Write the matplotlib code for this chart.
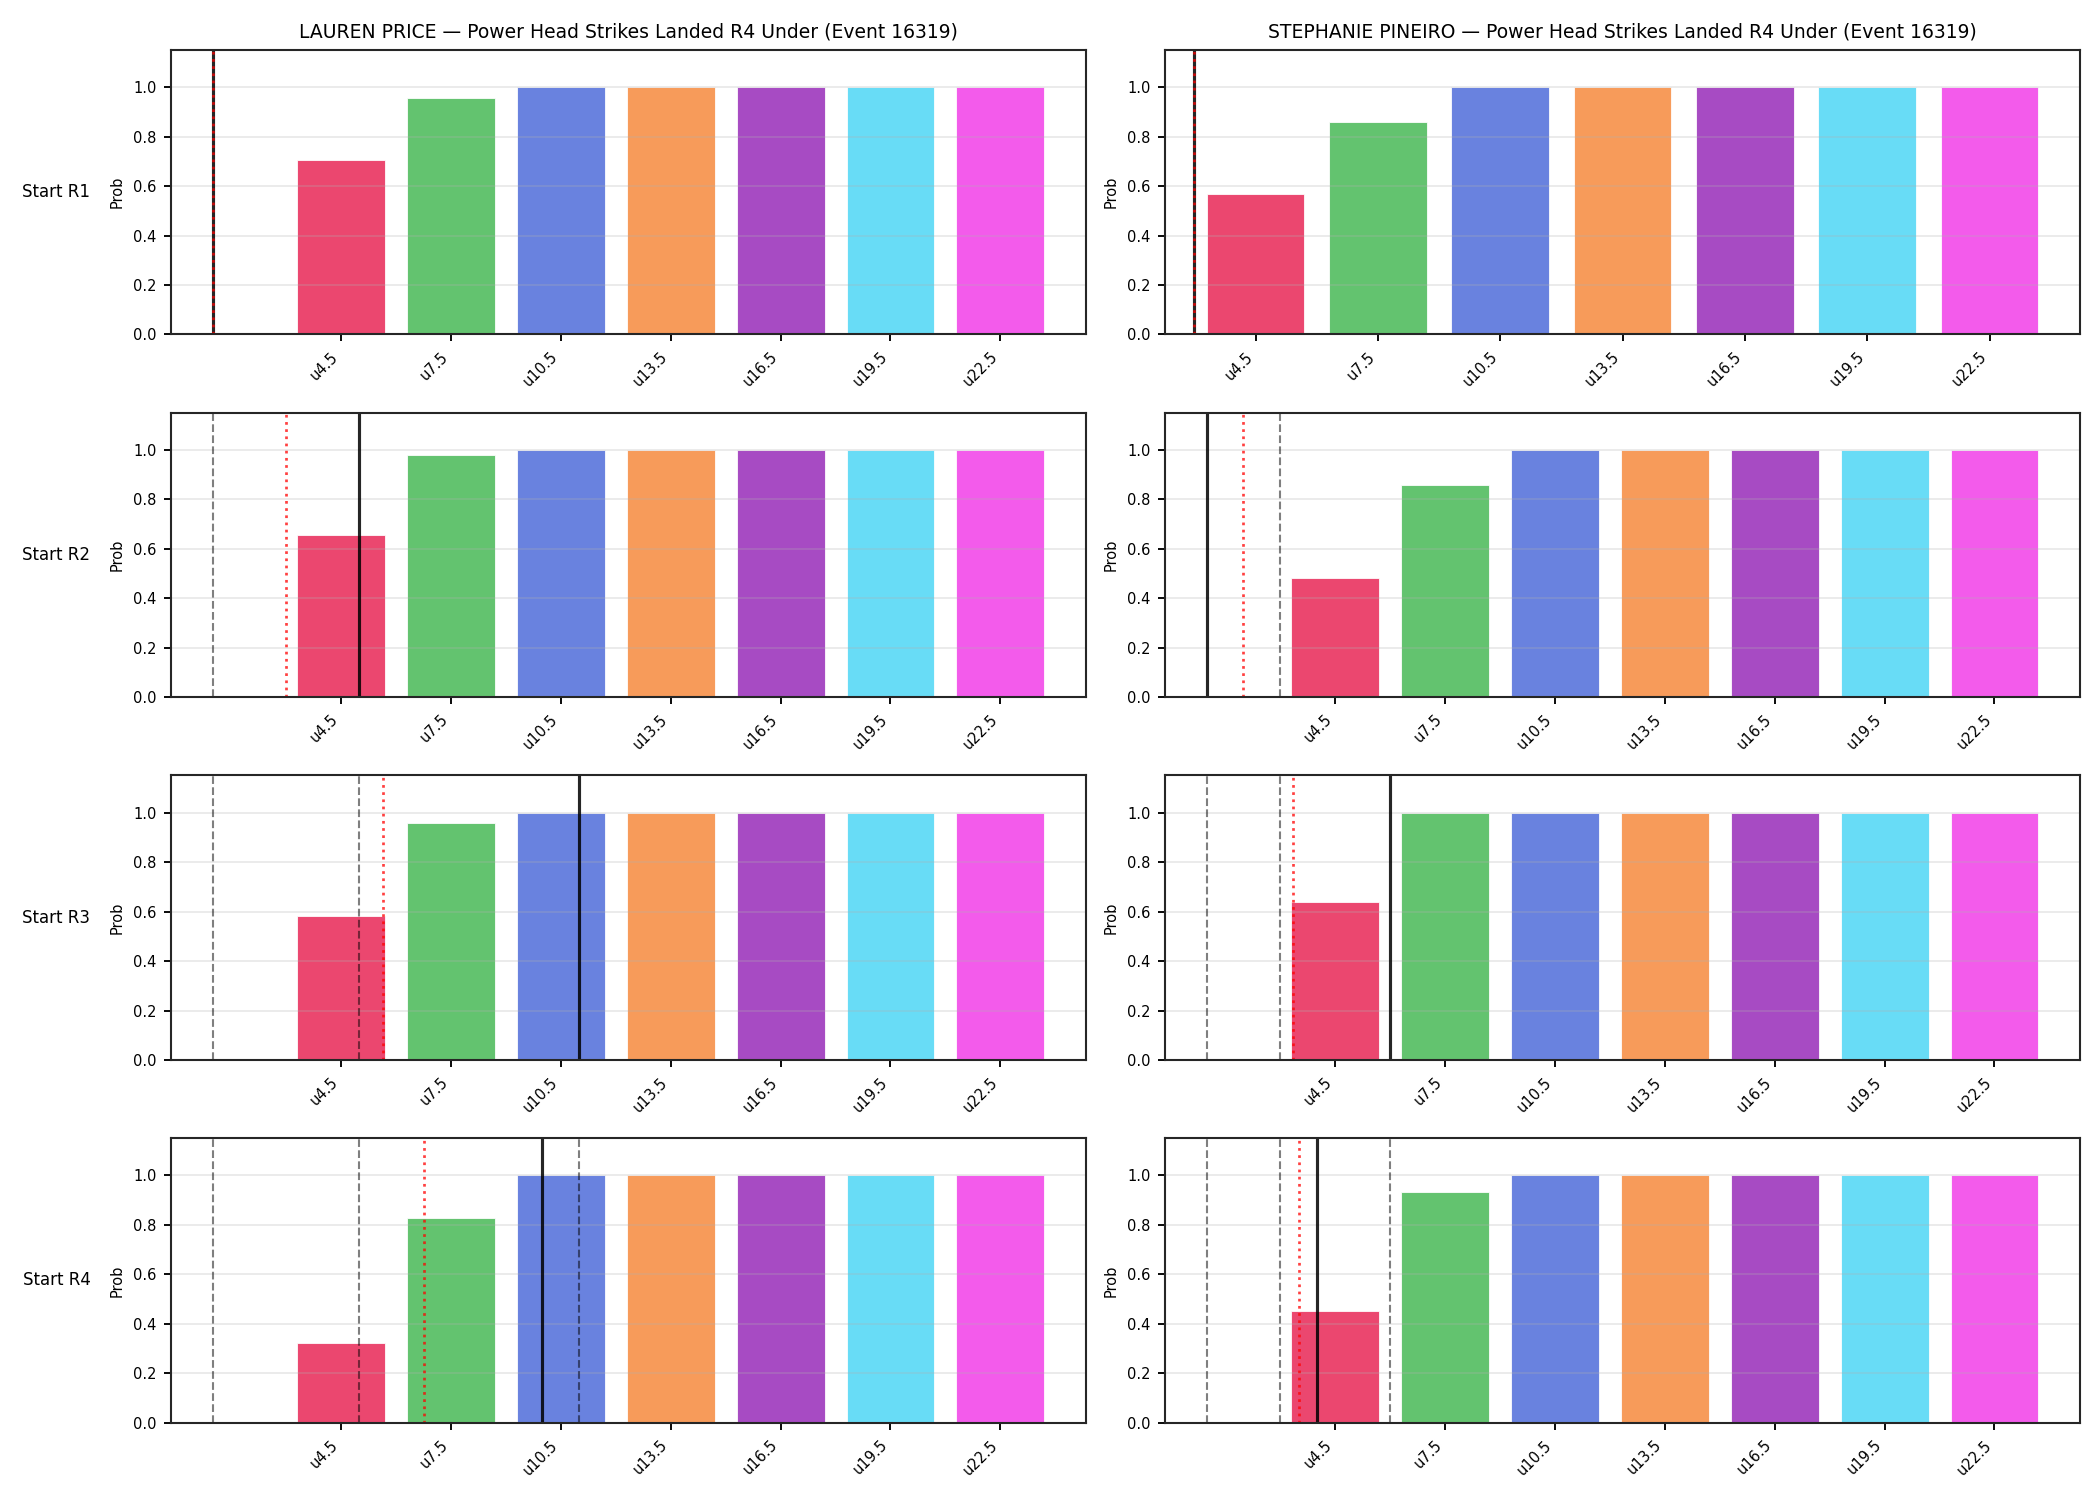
import numpy as np
import matplotlib
matplotlib.use("Agg")
import matplotlib.pyplot as plt

# thresholds (under lines)
thresholds = [4.5, 7.5, 10.5, 13.5, 16.5, 19.5, 22.5]
labels = ["u4.5", "u7.5", "u10.5", "u13.5", "u16.5", "u19.5", "u22.5"]
rounds = ["Start R1", "Start R2", "Start R3", "Start R4"]
colors = ["#e6194b", "#3cb44b", "#4363d8", "#f58231", "#911eb4", "#42d4f4", "#f032e6"]

price_name = "LAUREN PRICE"
price_probs = [
    [0.706, 0.957, 1.0, 1.0, 1.0, 1.0, 1.0],
    [0.656, 0.980, 1.0, 1.0, 1.0, 1.0, 1.0],
    [0.581, 0.957, 1.0, 1.0, 1.0, 1.0, 1.0],
    [0.323, 0.829, 1.0, 1.0, 1.0, 1.0, 1.0],
]
price_current = [1, 5, 11, 10]
price_proj = [1, 3, 5.66, 6.76]

pineiro_name = "STEPHANIE PINEIRO"
pineiro_probs = [
    [0.568, 0.857, 1.0, 1.0, 1.0, 1.0, 1.0],
    [0.482, 0.858, 1.0, 1.0, 1.0, 1.0, 1.0],
    [0.640, 1.0, 1.0, 1.0, 1.0, 1.0, 1.0],
    [0.451, 0.933, 1.0, 1.0, 1.0, 1.0, 1.0],
]
pineiro_current = [3, 1, 6, 4]
pineiro_proj = [3, 2, 3.35, 3.52]

event = 16319
market = "Power Head Strikes Landed R4 Under"

plt.rcParams["axes.linewidth"] = 1.0
plt.rcParams["axes.edgecolor"] = "#262626"
plt.rcParams["xtick.major.width"] = 0.9
plt.rcParams["ytick.major.width"] = 0.9

fig, axes = plt.subplots(4, 2, figsize=(14, 10), dpi=150)
fig.subplots_adjust(left=0.0814, right=0.9905, top=0.9667, bottom=0.0515,
                    hspace=0.275, wspace=0.0863)

fighters = [
    (price_name, price_probs, price_current, price_proj),
    (pineiro_name, pineiro_probs, pineiro_current, pineiro_proj),
]

for col, (name, probs, current, proj) in enumerate(fighters):
    for r in range(4):
        ax = axes[r, col]
        ax.bar(thresholds, probs[r], width=2.4, color=colors, alpha=0.8,
               edgecolor="white", linewidth=0.5)
        # earlier round markers
        for prev in current[:r]:
            ax.axvline(prev, color="k", linestyle="--", linewidth=1.0, alpha=0.5)
        ax.axvline(current[r], color="k", linewidth=1.5, alpha=0.85)
        ax.axvline(proj[r], color="red", linestyle=":", linewidth=1.3, alpha=0.75)
        ax.set_ylim(0, 1.15)
        ax.set_xticks(thresholds)
        ax.set_xticklabels(labels, rotation=45, ha="right")
        ax.tick_params(labelsize=7)
        ax.set_ylabel("Prob", fontsize=7)
        ax.grid(axis="y", alpha=0.3)
        if r == 0:
            ax.set_title(f"{name} \u2014 {market} (Event {event})", fontsize=9)
        if col == 0:
            ax.text(-0.088, 0.5, rounds[r], transform=ax.transAxes,
                    ha="right", va="center", fontsize=8)

plt.savefig("out.png", dpi=150)
